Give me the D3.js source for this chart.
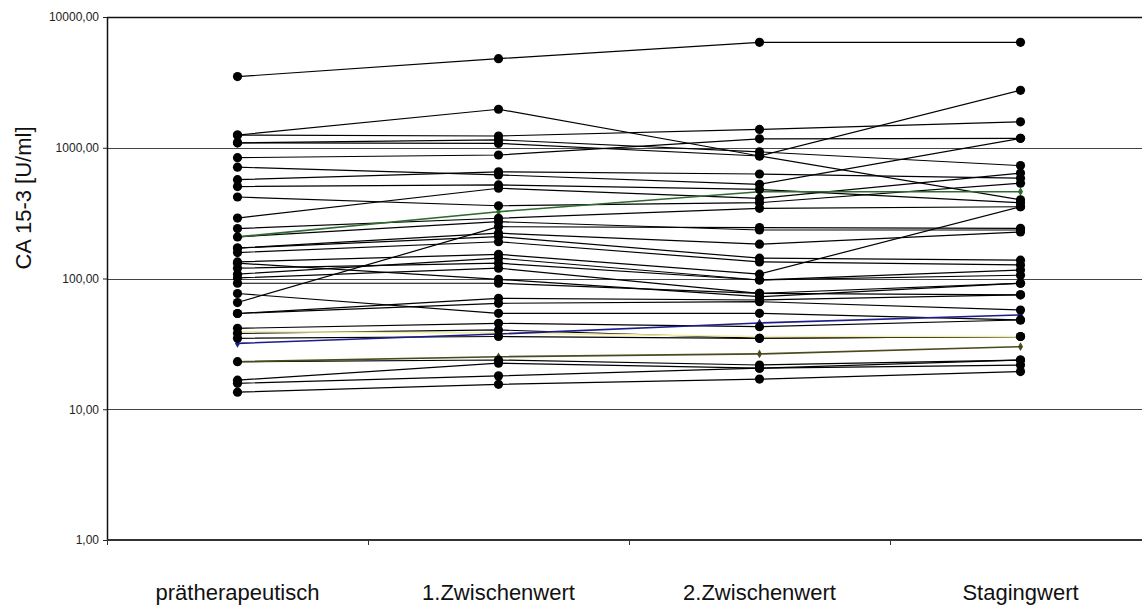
<!DOCTYPE html>
<html>
<head>
<meta charset="utf-8">
<script src="https://cdn.jsdelivr.net/npm/d3@7/dist/d3.min.js"></script>
<style>
  html, body { margin: 0; padding: 0; background: #fff; }
  svg { display: block; font-family: "Liberation Sans", Arial, sans-serif; }
</style>
</head>
<body>
<svg id="chart" width="1142" height="607"></svg>
<script>
// Measurement time points (x categories)
const categories = ["prätherapeutisch", "1.Zwischenwert", "2.Zwischenwert", "Stagingwert"];

// CA 15-3 values in U/ml, one entry per patient, per time point
const praetherapeutisch = [3500, 1250, 1250, 1090, 1090, 840, 710, 570, 505, 420, 290, 208, 241, 208, 65.5, 171, 171, 158, 134, 108, 120, 101, 131, 92, 54, 54, 76.8, 41.6, 38.1, 39.2, 34.9, 31.9, 23.1, 23.1, 16.7, 15.8, 13.5];
const zwischenwert1     = [4800, 1970, 1230, 1150, 1080, 880, 620, 655, 520, 360, 490, 324, 289, 272, 249, 222, 209, 191, 153, 143, 131, 120, 98.6, 92, 70.5, 64.6, 54.2, 45.4, 40.4, 38.3, 36, 37.6, 25.2, 23.8, 22.5, 18.0, 15.5];
const zwischenwert2     = [6400, 865, 1380, 930, 865, 1170, 525, 630, 480, 380, 410, 461, 344, 235, 245, 183, 143, 134, 108, 97.4, 97.4, 77, 72.6, 77, 68.5, 66.5, 54.2, 42.8, 34.9, 36, 34.9, 45.7, 26.5, 21.8, 20.6, 20.6, 17.0];
const stagingwert       = [6400, 2750, 1580, 730, 400, 1180, 1180, 585, 380, 535, 640, 461, 354, 235, 242, 227, 138, 127, 354, 116, 106, 92, 92, 75, 75, 57.4, 48.2, 48.2, 36, 36, 36, 52.6, 30.1, 23.8, 21.8, 23.8, 19.4];

// Y axis tick values and their printed labels
const yTicks = [1, 10, 100, 1000, 10000];
const yTickLabels = ["1,00", "10,00", "100,00", "1000,00", "10000,00"];

const yTitle = "CA 15-3 [U/ml]";

// A few patients are drawn in colour with small diamond markers
const accent = {
  11: "#2f6b2f",  // green
  29: "#f2eea0",  // pale yellow
  31: "#1c1c8c",  // navy
  32: "#4a4a1c"   // olive
};

const svg = d3.select("#chart");

const plot = { left: 107, top: 17, bottom: 540, right: 1142 };

const x = d3.scaleBand()
  .domain(categories)
  .range([plot.left, plot.left + 4 * 261])
  .padding(0);

const y = d3.scaleLog()
  .domain([1, 10000])
  .range([plot.bottom, plot.top]);

const columns = [praetherapeutisch, zwischenwert1, zwischenwert2, stagingwert];
const patients = praetherapeutisch.map((_, i) => ({
  id: i,
  values: categories.map((c, j) => ({ cat: c, v: columns[j][i] }))
}));

const cx = d => x(d.cat) + x.bandwidth() / 2;

// Horizontal grid lines at each decade
svg.append("g")
  .selectAll("line")
  .data(yTicks.filter(t => t > 1))
  .join("line")
  .attr("x1", plot.left)
  .attr("x2", plot.right)
  .attr("y1", d => Math.round(y(d)) + 0.5)
  .attr("y2", d => Math.round(y(d)) + 0.5)
  .attr("stroke", d => d === 10000 ? "#111" : "#444")
  .attr("stroke-width", d => d === 10000 ? 1.4 : 1);

// Y axis
const yAxis = d3.axisLeft(y)
  .tickValues(yTicks)
  .tickFormat((d, i) => yTickLabels[i])
  .tickSize(4)
  .tickSizeOuter(0);

const gy = svg.append("g")
  .attr("transform", `translate(${plot.left},0)`)
  .call(yAxis);
gy.select(".domain").attr("stroke", "#111").attr("stroke-width", 1.5);
gy.selectAll(".tick line").attr("stroke", "#222");
gy.selectAll(".tick text")
  .attr("x", -8)
  .attr("fill", "#222")
  .style("font-size", "12px")
  .style("font-family", "'Liberation Sans', Arial, sans-serif");

// X axis: ticks on the band boundaries, labels centred in each band
const gx = svg.append("g")
  .attr("transform", `translate(0,${plot.bottom})`);
gx.append("line")
  .attr("x1", plot.left).attr("x2", plot.right)
  .attr("y1", 0).attr("y2", 0)
  .attr("stroke", "#333").attr("stroke-width", 2.2);
gx.selectAll(".xtick")
  .data(categories)
  .join("line")
  .attr("class", "xtick")
  .attr("x1", d => x(d) + 0.5).attr("x2", d => x(d) + 0.5)
  .attr("y1", 0).attr("y2", 5)
  .attr("stroke", "#333");
gx.selectAll(".xlabel")
  .data(categories)
  .join("text")
  .attr("class", "xlabel")
  .attr("x", d => x(d) + x.bandwidth() / 2)
  .attr("y", 60)
  .attr("text-anchor", "middle")
  .attr("fill", "#111")
  .style("font-size", "22px")
  .text(d => d);

// Y axis title
svg.append("text")
  .attr("transform", "translate(31,198) rotate(-90)")
  .attr("text-anchor", "middle")
  .attr("fill", "#111")
  .style("font-size", "22px")
  .text(yTitle);

// Lines per patient
const line = d3.line().x(cx).y(d => y(d.v));

const ordered = patients.filter(p => !(p.id in accent)).concat(patients.filter(p => p.id in accent));

svg.append("g")
  .selectAll("path")
  .data(ordered)
  .join("path")
  .attr("d", p => line(p.values))
  .attr("fill", "none")
  .attr("stroke", p => accent[p.id] || "#000")
  .attr("stroke-width", p => p.id in accent ? 1.6 : 1.2);

// Small diamond markers for the coloured patients
const diamond = d3.symbol().type(d3.symbolDiamond).size(22);
svg.append("g")
  .selectAll("g")
  .data(patients.filter(p => p.id in accent))
  .join("g")
  .attr("fill", p => accent[p.id])
  .selectAll("path")
  .data(p => p.values)
  .join("path")
  .attr("d", diamond)
  .attr("transform", d => `translate(${cx(d)},${y(d.v)})`);

// Round black markers for all other patients
svg.append("g")
  .selectAll("g")
  .data(patients.filter(p => !(p.id in accent)))
  .join("g")
  .selectAll("circle")
  .data(p => p.values)
  .join("circle")
  .attr("cx", cx)
  .attr("cy", d => y(d.v))
  .attr("r", 4.6)
  .attr("fill", "#000");
</script>
</body>
</html>
